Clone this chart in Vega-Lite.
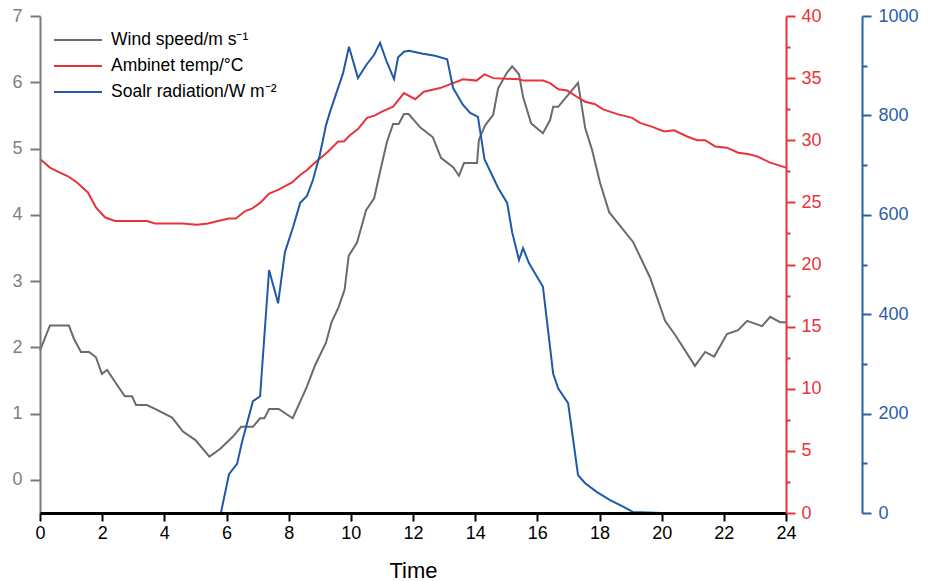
{
  "$schema": "https://vega.github.io/schema/vega-lite/v6.json",
  "autosize": "none",
  "width": 746,
  "height": 497,
  "padding": {"left": 40, "top": 16, "right": 147, "bottom": 68},
  "config": {
    "font": "Liberation Sans",
    "view": {"stroke": null},
    "axis": {"grid": false, "labelFont": "Liberation Sans", "titleFont": "Liberation Sans", "labelFontSize": 18, "labelOverlap": false, "labelFlush": false, "labelBound": false, "domainWidth": 2, "tickWidth": 2}
  },
  "datasets": {
    "wind": [
      {"t": 0, "v": 1.95}, {"t": 0.32, "v": 2.33}, {"t": 0.93, "v": 2.33}, {"t": 1.09, "v": 2.13}, {"t": 1.32, "v": 1.93}, {"t": 1.58, "v": 1.93}, {"t": 1.8, "v": 1.85}, {"t": 1.99, "v": 1.6}, {"t": 2.16, "v": 1.66}, {"t": 2.41, "v": 1.48}, {"t": 2.73, "v": 1.26}, {"t": 2.96, "v": 1.26}, {"t": 3.09, "v": 1.13}, {"t": 3.44, "v": 1.13}, {"t": 3.7, "v": 1.07}, {"t": 4.25, "v": 0.94}, {"t": 4.6, "v": 0.73}, {"t": 5.0, "v": 0.6}, {"t": 5.45, "v": 0.35}, {"t": 5.8, "v": 0.47}, {"t": 6.2, "v": 0.65}, {"t": 6.47, "v": 0.8}, {"t": 6.85, "v": 0.8}, {"t": 7.08, "v": 0.93}, {"t": 7.22, "v": 0.93}, {"t": 7.37, "v": 1.07}, {"t": 7.68, "v": 1.07}, {"t": 8.13, "v": 0.93}, {"t": 8.58, "v": 1.4}, {"t": 8.85, "v": 1.73}, {"t": 9.2, "v": 2.07}, {"t": 9.38, "v": 2.38}, {"t": 9.6, "v": 2.6}, {"t": 9.8, "v": 2.87}, {"t": 9.93, "v": 3.38}, {"t": 10.2, "v": 3.58}, {"t": 10.49, "v": 4.07}, {"t": 10.75, "v": 4.25}, {"t": 10.94, "v": 4.65}, {"t": 11.16, "v": 5.1}, {"t": 11.36, "v": 5.37}, {"t": 11.54, "v": 5.37}, {"t": 11.71, "v": 5.52}, {"t": 11.86, "v": 5.52}, {"t": 12.23, "v": 5.32}, {"t": 12.64, "v": 5.17}, {"t": 12.9, "v": 4.86}, {"t": 13.29, "v": 4.72}, {"t": 13.48, "v": 4.59}, {"t": 13.64, "v": 4.78}, {"t": 14.06, "v": 4.78}, {"t": 14.12, "v": 5.13}, {"t": 14.32, "v": 5.35}, {"t": 14.58, "v": 5.51}, {"t": 14.74, "v": 5.91}, {"t": 15.03, "v": 6.15}, {"t": 15.19, "v": 6.24}, {"t": 15.41, "v": 6.12}, {"t": 15.54, "v": 5.78}, {"t": 15.8, "v": 5.38}, {"t": 16.18, "v": 5.23}, {"t": 16.41, "v": 5.43}, {"t": 16.51, "v": 5.63}, {"t": 16.67, "v": 5.63}, {"t": 16.99, "v": 5.81}, {"t": 17.31, "v": 5.99}, {"t": 17.54, "v": 5.31}, {"t": 17.76, "v": 4.98}, {"t": 18.02, "v": 4.48}, {"t": 18.31, "v": 4.04}, {"t": 19.08, "v": 3.59}, {"t": 19.63, "v": 3.05}, {"t": 20.11, "v": 2.4}, {"t": 20.43, "v": 2.19}, {"t": 21.07, "v": 1.72}, {"t": 21.4, "v": 1.93}, {"t": 21.69, "v": 1.86}, {"t": 22.1, "v": 2.2}, {"t": 22.46, "v": 2.26}, {"t": 22.75, "v": 2.4}, {"t": 23.23, "v": 2.32}, {"t": 23.49, "v": 2.46}, {"t": 23.81, "v": 2.38}, {"t": 24.0, "v": 2.38}
    ],
    "temp": [
      {"t": 0, "v": 28.5}, {"t": 0.32, "v": 27.8}, {"t": 0.64, "v": 27.4}, {"t": 0.9, "v": 27.1}, {"t": 1.19, "v": 26.6}, {"t": 1.54, "v": 25.8}, {"t": 1.8, "v": 24.6}, {"t": 2.09, "v": 23.8}, {"t": 2.41, "v": 23.5}, {"t": 3.44, "v": 23.5}, {"t": 3.7, "v": 23.3}, {"t": 4.57, "v": 23.3}, {"t": 5.05, "v": 23.2}, {"t": 5.4, "v": 23.3}, {"t": 5.73, "v": 23.5}, {"t": 6.08, "v": 23.7}, {"t": 6.3, "v": 23.7}, {"t": 6.6, "v": 24.3}, {"t": 6.82, "v": 24.5}, {"t": 7.1, "v": 25.0}, {"t": 7.37, "v": 25.7}, {"t": 7.66, "v": 26.0}, {"t": 8.11, "v": 26.6}, {"t": 8.37, "v": 27.2}, {"t": 8.59, "v": 27.6}, {"t": 8.85, "v": 28.2}, {"t": 9.27, "v": 29.1}, {"t": 9.59, "v": 29.9}, {"t": 9.78, "v": 29.9}, {"t": 9.97, "v": 30.4}, {"t": 10.23, "v": 30.9}, {"t": 10.52, "v": 31.8}, {"t": 10.78, "v": 32.0}, {"t": 11.0, "v": 32.3}, {"t": 11.36, "v": 32.7}, {"t": 11.71, "v": 33.8}, {"t": 12.07, "v": 33.3}, {"t": 12.35, "v": 33.9}, {"t": 12.87, "v": 34.2}, {"t": 13.29, "v": 34.6}, {"t": 13.61, "v": 34.9}, {"t": 14.04, "v": 34.8}, {"t": 14.3, "v": 35.3}, {"t": 14.58, "v": 35.0}, {"t": 15.4, "v": 34.9}, {"t": 15.57, "v": 34.8}, {"t": 16.18, "v": 34.8}, {"t": 16.41, "v": 34.6}, {"t": 16.68, "v": 34.1}, {"t": 16.96, "v": 34.0}, {"t": 17.27, "v": 33.5}, {"t": 17.54, "v": 33.1}, {"t": 17.86, "v": 32.9}, {"t": 18.1, "v": 32.5}, {"t": 18.57, "v": 32.1}, {"t": 19.05, "v": 31.8}, {"t": 19.3, "v": 31.4}, {"t": 19.68, "v": 31.1}, {"t": 20.08, "v": 30.7}, {"t": 20.4, "v": 30.8}, {"t": 20.82, "v": 30.3}, {"t": 21.14, "v": 30.0}, {"t": 21.4, "v": 30.0}, {"t": 21.72, "v": 29.5}, {"t": 22.1, "v": 29.4}, {"t": 22.46, "v": 29.0}, {"t": 22.78, "v": 28.9}, {"t": 23.07, "v": 28.7}, {"t": 23.49, "v": 28.2}, {"t": 23.75, "v": 28.0}, {"t": 24.0, "v": 27.8}
    ],
    "solar": [
      {"t": 0, "v": 0}, {"t": 5.82, "v": 0}, {"t": 6.08, "v": 78}, {"t": 6.34, "v": 99}, {"t": 6.5, "v": 143}, {"t": 6.85, "v": 225}, {"t": 7.08, "v": 235}, {"t": 7.37, "v": 489}, {"t": 7.66, "v": 422}, {"t": 7.88, "v": 525}, {"t": 8.14, "v": 575}, {"t": 8.37, "v": 624}, {"t": 8.59, "v": 638}, {"t": 8.78, "v": 670}, {"t": 9.0, "v": 720}, {"t": 9.2, "v": 780}, {"t": 9.33, "v": 807}, {"t": 9.75, "v": 885}, {"t": 9.94, "v": 938}, {"t": 10.23, "v": 875}, {"t": 10.49, "v": 901}, {"t": 10.75, "v": 922}, {"t": 10.94, "v": 946}, {"t": 11.16, "v": 907}, {"t": 11.39, "v": 873}, {"t": 11.52, "v": 917}, {"t": 11.71, "v": 928}, {"t": 11.87, "v": 930}, {"t": 12.32, "v": 924}, {"t": 12.71, "v": 920}, {"t": 13.1, "v": 913}, {"t": 13.29, "v": 855}, {"t": 13.61, "v": 821}, {"t": 13.84, "v": 805}, {"t": 14.09, "v": 797}, {"t": 14.3, "v": 712}, {"t": 14.74, "v": 654}, {"t": 15.03, "v": 624}, {"t": 15.19, "v": 565}, {"t": 15.41, "v": 509}, {"t": 15.54, "v": 533}, {"t": 15.73, "v": 503}, {"t": 16.18, "v": 455}, {"t": 16.51, "v": 280}, {"t": 16.67, "v": 251}, {"t": 16.99, "v": 221}, {"t": 17.31, "v": 76}, {"t": 17.54, "v": 60}, {"t": 17.92, "v": 42}, {"t": 18.34, "v": 26}, {"t": 18.73, "v": 14}, {"t": 19.08, "v": 2}, {"t": 20.0, "v": 0}, {"t": 24.0, "v": 0}
    ]
  },
  "layer": [
    {
      "data": {"name": "wind"},
      "mark": {"type": "line", "strokeWidth": 2},
      "encoding": {
        "x": {"field": "t", "type": "quantitative", "title": "Time",
          "scale": {"domain": [0, 24], "nice": false, "zero": false},
          "axis": {"values": [0,1,2,3,4,5,6,7,8,9,10,11,12,13,14,15,16,17,18,19,20,21,22,23,24],
            "format": "d", "zindex": 2, "domainWidth": 3,
            "labelExpr": "datum.value % 2 === 0 ? datum.label : ''",
            "tickSize": {"condition": {"test": "datum.value % 2 === 0", "value": 8}, "value": 4},
            "domainColor": "#000000", "tickColor": "#000000", "labelColor": "#000000", "labelPadding": 3,
            "titleFontSize": 22, "titleFontWeight": "normal", "titleColor": "#000000", "titlePadding": 18}},
        "y": {"field": "v", "type": "quantitative",
          "scale": {"domain": [-0.5, 7], "nice": false, "zero": false},
          "axis": {"title": null, "orient": "left", "format": "d", "zindex": 1,
            "values": [0,0.5,1,1.5,2,2.5,3,3.5,4,4.5,5,5.5,6,6.5,7],
            "labelExpr": "datum.value % 1 === 0 ? datum.label : ''",
            "tickSize": {"condition": {"test": "datum.value % 1 === 0", "value": 10}, "value": 5},
            "domainColor": "#7a7a7a", "tickColor": "#7a7a7a", "labelColor": "#808080", "labelPadding": 8}},
        "color": {"datum": "Wind speed/m s⁻¹", "type": "nominal",
          "scale": {"domain": ["Wind speed/m s⁻¹", "Ambinet temp/°C", "Soalr radiation/W m⁻²"], "range": ["#6b6b6b", "#e8333b", "#1f5aa8"]},
          "legend": {"orient": "none", "legendX": 29, "legendY": 15, "title": null, "padding": 0,
            "symbolType": "M-3,0H3", "symbolSize": 256, "symbolStrokeWidth": 2,
            "labelFontSize": 17.5, "labelFont": "Liberation Sans", "labelColor": "#000000", "labelOffset": 24, "labelLimit": 400, "rowPadding": 8}}
      }
    },
    {
      "data": {"name": "temp"},
      "mark": {"type": "line", "strokeWidth": 2},
      "encoding": {
        "x": {"field": "t", "type": "quantitative"},
        "y": {"field": "v", "type": "quantitative",
          "scale": {"domain": [0, 40], "nice": false, "zero": false},
          "axis": {"title": null, "orient": "right", "format": "d", "zindex": 3,
            "values": [0,2.5,5,7.5,10,12.5,15,17.5,20,22.5,25,27.5,30,32.5,35,37.5,40],
            "labelExpr": "datum.value % 5 === 0 ? datum.label : ''",
            "tickSize": {"condition": {"test": "datum.value % 5 === 0", "value": 9}, "value": 4},
            "domainColor": "#e8333b", "tickColor": "#e8333b", "labelColor": "#e8333b", "labelPadding": 6}},
        "color": {"datum": "Ambinet temp/°C", "type": "nominal"}
      }
    },
    {
      "data": {"name": "solar"},
      "mark": {"type": "line", "strokeWidth": 2},
      "encoding": {
        "x": {"field": "t", "type": "quantitative"},
        "y": {"field": "v", "type": "quantitative",
          "scale": {"domain": [0, 1000], "nice": false, "zero": false},
          "axis": {"title": null, "orient": "right", "offset": 76, "format": "d", "zindex": 1,
            "values": [0,100,200,300,400,500,600,700,800,900,1000],
            "labelExpr": "datum.value % 200 === 0 ? datum.label : ''",
            "tickSize": {"condition": {"test": "datum.value % 200 === 0", "value": 9}, "value": 5},
            "domainColor": "#2a5ea9", "tickColor": "#2a5ea9", "labelColor": "#2a5ea9", "labelPadding": 7}},
        "color": {"datum": "Soalr radiation/W m⁻²", "type": "nominal"}
      }
    }
  ],
  "resolve": {"scale": {"y": "independent"}}
}
